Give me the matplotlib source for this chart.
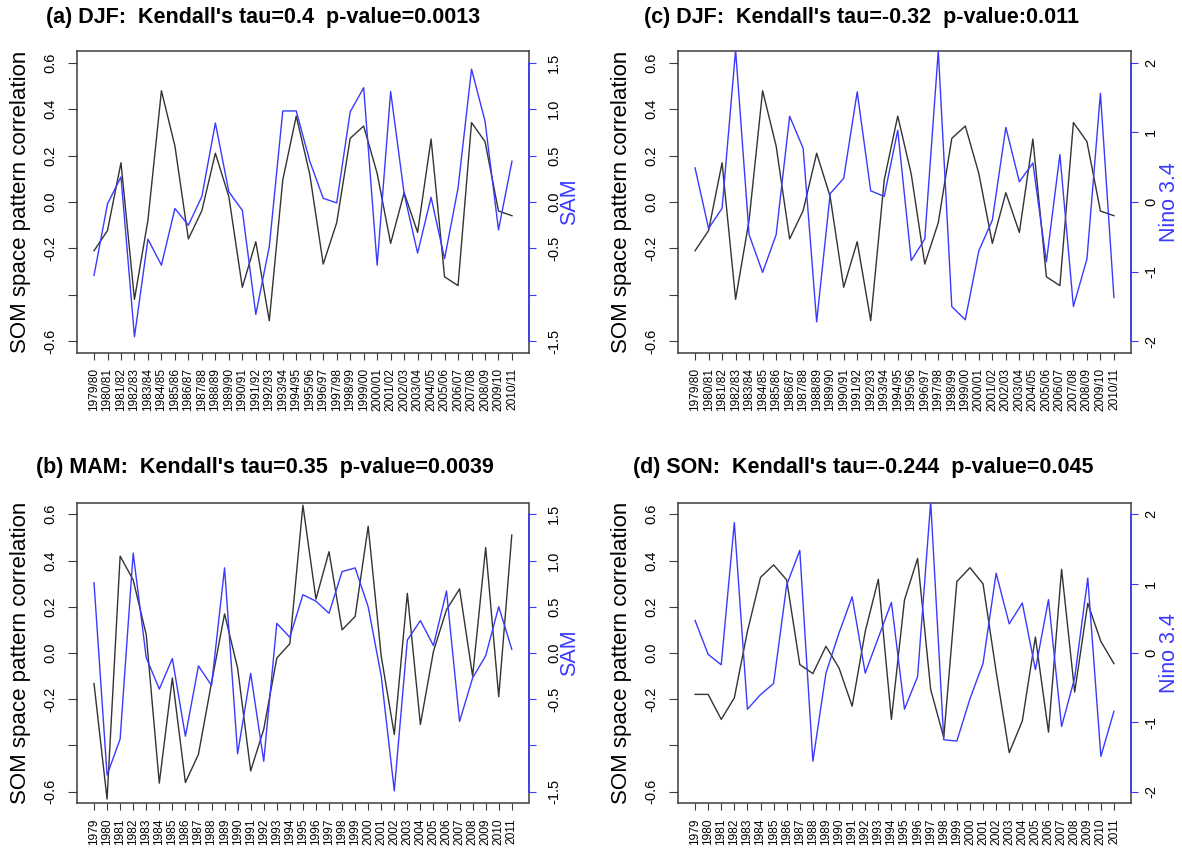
import matplotlib
matplotlib.use("Agg")
import matplotlib.pyplot as plt
import numpy as np

plt.rcParams['font.family'] = ['Liberation Sans', 'DejaVu Sans']

W, H = 1182, 856

# ---------------- data ----------------
djf_labels = ["1979/80", "1980/81", "1981/82", "1982/83", "1983/84", "1984/85", "1985/86",
              "1986/87", "1987/88", "1988/89", "1989/90", "1990/91", "1991/92", "1992/93",
              "1993/94", "1994/95", "1995/96", "1996/97", "1997/98", "1998/99", "1999/00",
              "2000/01", "2001/02", "2002/03", "2003/04", "2004/05", "2005/06", "2006/07",
              "2007/08", "2008/09", "2009/10", "2010/11"]
year_labels = ["1979", "1980", "1981", "1982", "1983", "1984", "1985", "1986", "1987", "1988",
               "1989", "1990", "1991", "1992", "1993", "1994", "1995", "1996", "1997", "1998",
               "1999", "2000", "2001", "2002", "2003", "2004", "2005", "2006", "2007", "2008",
               "2009", "2010", "2011"]

som_djf = [-0.21, -0.123, 0.169, -0.419, -0.078, 0.479, 0.241, -0.159, -0.037, 0.21, 0.023,
           -0.367, -0.171, -0.511, 0.095, 0.37, 0.12, -0.267, -0.089, 0.274, 0.327, 0.123,
           -0.178, 0.04, -0.131, 0.271, -0.322, -0.36, 0.342, 0.26, -0.039, -0.059]
sam_djf = [-0.79, -0.02, 0.27, -1.45, -0.40, -0.68, -0.07, -0.25, 0.06, 0.85, 0.11, -0.09,
           -1.21, -0.48, 0.98, 0.98, 0.44, 0.04, -0.01, 0.97, 1.23, -0.68, 1.19, 0.09, -0.55,
           0.05, -0.61, 0.15, 1.43, 0.87, -0.30, 0.44]
nino_djf = [0.49, -0.38, -0.09, 2.18, -0.47, -1.01, -0.47, 1.23, 0.77, -1.72, 0.12, 0.34,
            1.58, 0.16, 0.08, 1.03, -0.84, -0.53, 2.17, -1.50, -1.69, -0.70, -0.26, 1.07,
            0.29, 0.56, -0.86, 0.68, -1.50, -0.82, 1.56, -1.37]

som_mam = [-0.132, -0.632, 0.419, 0.316, 0.079, -0.563, -0.108, -0.56, -0.438, -0.129, 0.169,
           -0.065, -0.51, -0.33, -0.022, 0.04, 0.639, 0.233, 0.438, 0.10, 0.158, 0.548, -0.014,
           -0.352, 0.258, -0.309, 0.007, 0.187, 0.277, -0.10, 0.456, -0.189, 0.51]
sam_mam = [0.76, -1.32, -0.93, 1.08, -0.05, -0.39, -0.06, -0.90, -0.14, -0.35, 0.92, -1.09,
           -0.22, -1.17, 0.32, 0.17, 0.63, 0.56, 0.43, 0.88, 0.92, 0.50, -0.25, -1.49, 0.14,
           0.35, 0.08, 0.67, -0.74, -0.27, -0.03, 0.50, 0.04]

som_son = [-0.179, -0.179, -0.287, -0.194, 0.093, 0.327, 0.381, 0.316, -0.05, -0.089, 0.029,
           -0.065, -0.23, 0.093, 0.319, -0.287, 0.23, 0.409, -0.158, -0.366, 0.309, 0.369,
           0.299, -0.08, -0.431, -0.294, 0.069, -0.342, 0.362, -0.169, 0.215, 0.05, -0.046]
nino_son = [0.47, -0.02, -0.17, 1.88, -0.81, -0.60, -0.44, 0.98, 1.48, -1.56, -0.29, 0.29,
            0.81, -0.29, 0.22, 0.73, -0.81, -0.34, 2.18, -1.25, -1.27, -0.66, -0.15, 1.15,
            0.42, 0.72, -0.24, 0.77, -1.06, -0.36, 1.08, -1.49, -0.84]

left_ticks = [0.6, 0.4, 0.2, 0.0, -0.2, -0.4, -0.6]
left_ticklabels = ["0.6", "0.4", "0.2", "0.0", "-0.2", "", "-0.6"]
sam_ticks = [1.5, 1.0, 0.5, 0.0, -0.5, -1.0, -1.5]
sam_ticklabels = ["1.5", "1.0", "0.5", "0.0", "-0.5", "", "-1.5"]
nino_ticks = [2, 1, 0, -1, -2]
nino_ticklabels = ["2", "1", "0", "-1", "-2"]

titles = ["(a) DJF:  Kendall's tau=0.4  p-value=0.0013",
          "(b) MAM:  Kendall's tau=0.35  p-value=0.0039",
          "(c) DJF:  Kendall's tau=-0.32  p-value:0.011",
          "(d) SON:  Kendall's tau=-0.244  p-value=0.045"]

BLACK = '#333333'
BLUE = '#3a3aff'
BOX = '#3c3c3c'

fig = plt.figure(figsize=(W / 100, H / 100), dpi=100)


def panel(rect, labels, som, idx, idx_name, ticks, ticklabels, scale, title, title_cx, title_cy,
          rlab_off, rpad):
    l, t, r, b = rect
    ax = fig.add_axes([l / W, 1 - b / H, (r - l) / W, (b - t) / H])
    n = len(som)
    x = np.arange(1, n + 1)
    pad = 0.04 * (n - 1)
    ax.set_xlim(1 - pad, n + pad)
    ax.set_ylim(-0.65, 0.65)
    ax.plot(x, som, color=BLACK, lw=1.0)
    ax.set_xticks(x)
    ax.set_xticklabels(labels, rotation=90, fontsize=8.6)
    ax.set_yticks(left_ticks)
    ax.set_yticklabels(left_ticklabels, rotation=90, va='center', fontsize=10.5)
    for s in ax.spines.values():
        s.set_color(BOX)
        s.set_linewidth(1.1)
    ax.tick_params(axis='y', direction='out', color=BOX, length=6.5, width=0.8, pad=8)
    ax.tick_params(axis='x', direction='out', color=BOX, length=5, width=0.8, pad=6)

    ax2 = ax.twinx()
    ax2.set_ylim(-0.65 * scale, 0.65 * scale)
    ax2.plot(x, idx, color=BLUE, lw=1.0)
    ax2.set_yticks(ticks)
    ax2.set_yticklabels(ticklabels, rotation=90, va='center', fontsize=10.5)
    for k in ['left', 'top', 'bottom']:
        ax2.spines[k].set_visible(False)
    ax2.spines['right'].set_bounds(min(ticks), max(ticks))
    ax2.spines['right'].set_color(BLUE)
    ax2.spines['right'].set_linewidth(1.1)
    ax2.tick_params(axis='y', direction='out', color=BLUE, labelcolor='black', length=5.3,
                    width=0.8, pad=rpad)

    cy = (t + b) / 2
    fig.text((l - 57) / W, 1 - cy / H, "SOM space pattern correlation", rotation=90,
             ha='center', va='center', fontsize=16)
    fig.text((r + rlab_off) / W, 1 - cy / H, idx_name, rotation=90, ha='center', va='center',
             fontsize=15.5, color=BLUE)
    fig.text(title_cx / W, 1 - title_cy / H, title, ha='center', va='center',
             fontsize=15.5, fontweight='bold')


panel((77.3, 51, 528.7, 353), djf_labels, som_djf, sam_djf, "SAM", sam_ticks, sam_ticklabels,
      2.5, titles[0], 263, 18, 41, 8)
panel((77.3, 502.7, 528.5, 803.3), year_labels, som_mam, sam_mam, "SAM", sam_ticks,
      sam_ticklabels, 2.5, titles[1], 265, 468, 41, 8)
panel((678.3, 51, 1130.7, 353), djf_labels, som_djf, nino_djf, "Nino 3.4", nino_ticks,
      nino_ticklabels, 10 / 3, titles[2], 862, 18, 39, 4.5)
panel((678.3, 502.7, 1130.7, 803.3), year_labels, som_son, nino_son, "Nino 3.4", nino_ticks,
      nino_ticklabels, 10 / 3, titles[3], 863, 468, 39, 4.5)

fig.savefig("out.png", dpi=100)
